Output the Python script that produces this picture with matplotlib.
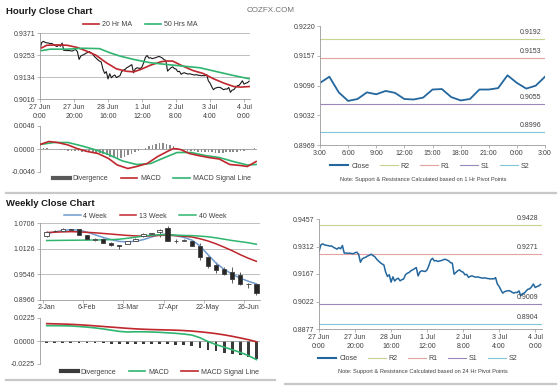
import matplotlib
matplotlib.use("Agg")
import matplotlib.pyplot as plt
from matplotlib.lines import Line2D
import numpy as np

plt.rcParams["font.family"] = ["Liberation Sans", "DejaVu Sans"]

# ---------------- data ----------------
# hourly closes, 27 Jun 0:00 -> 4 Jul 3:00 (trading hours only)
hourly_close = [
    0.9285, 0.9320, 0.9326, 0.9321, 0.9318, 0.9317, 0.9314, 0.9315, 0.9308, 0.9303,
    0.9298, 0.9306, 0.9300, 0.9317, 0.9277, 0.9278, 0.9276, 0.9277, 0.9275, 0.9274,
    0.9279, 0.9282, 0.9271, 0.9229, 0.9247, 0.9252, 0.9256, 0.9262, 0.9266, 0.9271,
    0.9264, 0.9258, 0.9245, 0.9236, 0.9227, 0.9220, 0.9215, 0.9177, 0.9154, 0.9163,
    0.9124, 0.9152, 0.9130, 0.9140, 0.9145, 0.9131, 0.9137, 0.9141, 0.9163, 0.9171,
    0.9175, 0.9184, 0.9189, 0.9195, 0.9201, 0.9157, 0.9178, 0.9184, 0.9182, 0.9180,
    0.9189, 0.9212, 0.9240, 0.9250, 0.9236, 0.9238, 0.9233, 0.9236, 0.9238, 0.9242,
    0.9245, 0.9241, 0.9236, 0.9227, 0.9224, 0.9166, 0.9175, 0.9184, 0.9189, 0.9180,
    0.9177, 0.9163, 0.9165, 0.9149, 0.9155, 0.9157, 0.9153, 0.9150, 0.9152, 0.9149,
    0.9147, 0.9145, 0.9147, 0.9144, 0.9143, 0.9141, 0.9142, 0.9141, 0.9148, 0.9114,
    0.9101, 0.9082, 0.9066, 0.9074, 0.9077, 0.9079, 0.9078, 0.9072, 0.9066, 0.9070,
    0.9069, 0.9078, 0.9052, 0.9064, 0.9066, 0.9078, 0.9087, 0.9089, 0.9100, 0.9114,
    0.9096, 0.9101, 0.9104, 0.9112,
]
hour_ticks = [0, 20, 40, 60, 80, 100, 120]
hour_labels = ["27 Jun\n0:00", "27 Jun\n20:00", "28 Jun\n16:00", "1 Jul\n12:00",
               "2 Jul\n8:00", "3 Jul\n4:00", "4 Jul\n0:00"]

ma20_hours = [0, 4, 10, 16, 22, 27, 33, 39, 45, 51, 55, 59, 65, 71, 74, 78, 84, 90,
              96, 102, 108, 114, 118, 123]
ma20 = [0.9287, 0.9305, 0.9307, 0.9305, 0.9293, 0.9275, 0.9251, 0.9211, 0.9178, 0.9165,
        0.9162, 0.9174, 0.9198, 0.9216, 0.9220, 0.9220, 0.9193, 0.9169, 0.9153, 0.9125,
        0.9102, 0.9083, 0.9080, 0.9083]
ma50_hours = [0, 6, 16, 25, 35, 41, 47, 55, 65, 74, 84, 94, 103, 114, 123]
ma50 = [0.9275, 0.9284, 0.9284, 0.9289, 0.9287, 0.9265, 0.9247, 0.9229, 0.9211, 0.9202,
        0.9193, 0.9184, 0.9165, 0.9142, 0.9125]

macd_h_hours = [0, 5, 10, 16, 21, 27, 33, 39, 44, 50, 55, 61, 67, 73, 76, 80, 85, 90,
                96, 102, 108, 114, 118, 123]
macd_h = [0.0009, 0.0015, 0.0013, 0.0008, 0.0001, -0.0005, -0.0009, -0.0019, -0.0032,
          -0.0039, -0.0035, -0.0029, -0.0015, -0.0004, 0.0001, -0.0001, -0.0009, -0.0013,
          -0.0017, -0.0020, -0.0031, -0.0033, -0.0035, -0.0025]
signal_h_hours = [0, 8, 16, 24, 31, 39, 47, 55, 63, 71, 78, 86, 94, 102, 110, 118, 123]
signal_h = [0.0009, 0.0013, 0.0013, 0.0006, -0.0001, -0.0011, -0.0024, -0.0031, -0.0029,
            -0.0017, -0.0007, -0.0007, -0.0013, -0.0017, -0.0025, -0.0032, -0.0031]
div_h_hours = list(range(0, 124, 2))
div_h = [0.0001, 0.0002, 0.0002, 0.0001, 0.0001, 0.0000, -0.0001, -0.0002, -0.0003, -0.0003,
         -0.0004, -0.0004, -0.0005, -0.0005, -0.0005, -0.0006, -0.0007, -0.0008, -0.0010, -0.0012,
         -0.0015, -0.0017, -0.0018, -0.0017, -0.0015, -0.0012, -0.0009, -0.0006, -0.0003, 0.0000,
         0.0003, 0.0006, 0.0009, 0.0011, 0.0012, 0.0012, 0.0010, 0.0008, 0.0006, 0.0003,
         0.0000, -0.0002, -0.0003, -0.0004, -0.0004, -0.0005, -0.0005, -0.0005, -0.0005, -0.0006,
         -0.0007, -0.0007, -0.0007, -0.0006, -0.0006, -0.0005, -0.0005, -0.0004, -0.0003, -0.0002,
         0.0000, 0.0002]

# last 24 hours, 3:00 -> 3:00
day_close = [0.9100, 0.9113, 0.9080, 0.9062, 0.9066, 0.9080, 0.9076, 0.9083, 0.9079, 0.9066,
             0.9065, 0.9069, 0.9086, 0.9087, 0.9070, 0.9063, 0.9066, 0.9086, 0.9086, 0.9089,
             0.9116, 0.9100, 0.9088, 0.9094, 0.9113]
day_ticks = [0, 3, 6, 9, 12, 15, 18, 21, 24]
day_labels = ["3:00", "6:00", "9:00", "12:00", "15:00", "18:00", "21:00", "0:00", "3:00"]
pivots_1h = {"R2": 0.9192, "R1": 0.9153, "S1": 0.9055, "S2": 0.8996}
pivots_24h = {"R2": 0.9428, "R1": 0.9271, "S1": 0.9009, "S2": 0.8904}

# weekly candles
wk_open = [1.0410, 1.0515, 1.0535, 1.0565, 1.0560, 1.0425, 1.0330, 1.0350, 1.0262, 1.0205,
           1.0232, 1.0297, 1.0405, 1.0462, 1.0512, 1.0587, 1.0310, 1.0305, 1.0304, 1.0192,
           0.9932, 0.9746, 0.9672, 0.9598, 0.9524, 0.9328, 0.9338]
wk_high = [1.0525, 1.0540, 1.0585, 1.0580, 1.0575, 1.0440, 1.0365, 1.0360, 1.0275, 1.0215,
           1.0310, 1.0360, 1.0475, 1.0490, 1.0565, 1.0630, 1.0335, 1.0340, 1.0320, 1.0250,
           0.9960, 0.9820, 0.9720, 0.9710, 0.9600, 0.9340, 0.9345]
wk_low = [1.0390, 1.0500, 1.0525, 1.0540, 1.0430, 1.0320, 1.0290, 1.0250, 1.0190, 1.0110,
          1.0225, 1.0290, 1.0395, 1.0440, 1.0400, 1.0290, 1.0255, 1.0290, 1.0180, 0.9870,
          0.9690, 0.9580, 0.9540, 0.9340, 0.9300, 0.9230, 0.9085]
wk_close = [1.0505, 1.0525, 1.0570, 1.0555, 1.0440, 1.0335, 1.0350, 1.0262, 1.0205, 1.0175,
            1.0297, 1.0350, 1.0462, 1.0480, 1.0552, 1.0304, 1.0295, 1.0325, 1.0192, 0.9932,
            0.9724, 0.9650, 0.9560, 0.9449, 0.9338, 0.9320, 0.9130]
ma4w = [1.0470, 1.0500, 1.0540, 1.0555, 1.0545, 1.0500, 1.0440, 1.0380, 1.0330, 1.0290,
        1.0280, 1.0295, 1.0330, 1.0390, 1.0440, 1.0460, 1.0420, 1.0380, 1.0320, 1.0190,
        0.9990, 0.9800, 0.9660, 0.9550, 0.9460, 0.9390, 0.9330]
ma13w = [1.0490, 1.0500, 1.0505, 1.0510, 1.0505, 1.0495, 1.0485, 1.0470, 1.0455, 1.0440,
         1.0425, 1.0415, 1.0410, 1.0415, 1.0425, 1.0430, 1.0420, 1.0405, 1.0390, 1.0350,
         1.0300, 1.0235, 1.0160, 1.0080, 0.9990, 0.9910, 0.9840]
ma40w = [1.0310, 1.0312, 1.0314, 1.0316, 1.0318, 1.0320, 1.0322, 1.0325, 1.0330, 1.0340,
         1.0360, 1.0385, 1.0410, 1.0430, 1.0440, 1.0440, 1.0432, 1.0425, 1.0420, 1.0410,
         1.0395, 1.0370, 1.0340, 1.0310, 1.0285, 1.0260, 1.0225]
week_ticks = [0, 5, 10, 15, 20, 25]
week_labels = ["2-Jan", "6-Feb", "13-Mar", "17-Apr", "22-May", "26-Jun"]

macd_w = [0.0150, 0.0150, 0.0149, 0.0147, 0.0142, 0.0136, 0.0128, 0.0118, 0.0106, 0.0094,
          0.0088, 0.0090, 0.0090, 0.0088, 0.0085, 0.0080, 0.0075, 0.0068, 0.0058, 0.0032,
          -0.0005, -0.0035, -0.0060, -0.0085, -0.0112, -0.0142, -0.0182]
signal_w = [0.0170, 0.0168, 0.0166, 0.0163, 0.0159, 0.0154, 0.0148, 0.0142, 0.0136, 0.0130,
            0.0124, 0.0119, 0.0115, 0.0112, 0.0110, 0.0108, 0.0106, 0.0102, 0.0097, 0.0090,
            0.0082, 0.0072, 0.0060, 0.0046, 0.0030, 0.0013, -0.0007]
div_w = [-0.0015, -0.0015, -0.0016, -0.0017, -0.0018, -0.0019, -0.0020, -0.0022, -0.0025, -0.0030,
         -0.0030, -0.0028, -0.0027, -0.0027, -0.0028, -0.0030, -0.0035, -0.0040, -0.0050, -0.0065,
         -0.0085, -0.0100, -0.0115, -0.0125, -0.0140, -0.0155, -0.0175]

# ---------------- style ----------------
RED = "#c0272d"
GREEN = "#2fb56f"
BLUE = "#23679e"
LIGHTBLUE = "#6f9bcf"
AXIS = "#9a9a9a"
GRID = "#b4b4b4"
TXT = "#404040"
PIVOT_COLORS = {"R2": "#c4d590", "R1": "#e6a3a3", "S1": "#9a88bd", "S2": "#7fc6d9"}
FS = 5.0

W, H = 560, 386
fig = plt.figure(figsize=(5.6, 3.86), dpi=100)
fig.patch.set_facecolor("white")


def px_axes(x0, y0, x1, y1):
    return fig.add_axes([x0 / W, 1 - y1 / H, (x1 - x0) / W, (y1 - y0) / H])


def style_axes(ax, bottom=True):
    for s in ("top", "right"):
        ax.spines[s].set_visible(False)
    ax.spines["left"].set_color(AXIS)
    ax.spines["left"].set_linewidth(0.6)
    ax.spines["bottom"].set_color(AXIS)
    ax.spines["bottom"].set_linewidth(0.6)
    ax.spines["bottom"].set_visible(bottom)
    ax.tick_params(labelsize=FS, length=2, width=0.5, colors=AXIS, labelcolor=TXT, pad=1.5)
    ax.set_facecolor("none")


def legend_at(ax, handles, cx, cy, ncol, hl=2.4, cs=1.8):
    ax.legend(handles=handles, loc="center", bbox_to_anchor=(cx / W, 1 - cy / H),
              bbox_transform=fig.transFigure, ncol=ncol, frameon=False, fontsize=FS,
              handlelength=hl, columnspacing=cs, handletextpad=0.4, borderpad=0,
              labelcolor=TXT)


def fig_text(x, y, s, **kw):
    fig.text(x / W, 1 - y / H, s, **kw)


def separator(x0, x1, y):
    fig.add_artist(Line2D([x0 / W, x1 / W], [1 - y / H, 1 - y / H],
                          transform=fig.transFigure, color="#c8c8c8", lw=1.6))


hours = np.arange(len(hourly_close))

# titles
fig_text(6, 11, "Hourly Close Chart", fontsize=6.8, fontweight="bold", color="#1a1a1a", va="center")
fig_text(247, 10, "COZFX.COM", fontsize=5.8, color="#707070", va="center")
fig_text(6, 203, "Weekly Close Chart", fontsize=6.8, fontweight="bold", color="#1a1a1a", va="center")

# ---- hourly close with moving averages ----
ax = px_axes(40, 33, 250, 99)
style_axes(ax)
yt = np.linspace(0.9016, 0.9371, 4)
ax.set_ylim(yt[0], yt[-1])
ax.set_xlim(0, 123.5)
ax.set_yticks(yt, ["0.9016", "0.9134", "0.9253", "0.9371"])
ax.set_xticks(hour_ticks, hour_labels, linespacing=1.4)
ax.grid(axis="y", color=GRID, lw=0.6)
ax.set_axisbelow(True)
ax.plot(hours, hourly_close, color="#1a1a1a", lw=0.8)
ax.plot(ma20_hours, ma20, color=RED, lw=1.2)
ax.plot(ma50_hours, ma50, color=GREEN, lw=1.2)
legend_at(ax, [Line2D([], [], color=RED, lw=1.2, label="20 Hr MA"),
               Line2D([], [], color=GREEN, lw=1.2, label="50 Hrs MA")], 140, 25, 2)

# ---- hourly MACD ----
ax = px_axes(40, 126, 257, 172)
style_axes(ax, bottom=False)
ax.set_ylim(-0.0046, 0.0046)
ax.set_xlim(0, 123.5)
ax.set_yticks([-0.0046, 0, 0.0046], ["-0.0046", "0.0000", "0.0046"])
ax.set_xticks([])
ax.axhline(0, color=AXIS, lw=0.6)
ax.bar(div_h_hours, div_h, width=0.9, color="#8a8a8a", zorder=1)
ax.plot(macd_h_hours, macd_h, color=RED, lw=1.2, zorder=3)
ax.plot(signal_h_hours, signal_h, color=GREEN, lw=1.2, zorder=2)
legend_at(ax, [Line2D([], [], color="#595959", lw=3, label="Divergence"),
               Line2D([], [], color=RED, lw=1.2, label="MACD"),
               Line2D([], [], color=GREEN, lw=1.2, label="MACD Signal Line")], 152, 179, 3)

# ---- last 24 hours with 1 hr pivots ----
ax = px_axes(320, 26, 545, 145)
style_axes(ax)
yt = np.linspace(0.8969, 0.9220, 5)
ax.set_ylim(yt[0], yt[-1])
ax.set_xlim(0, 24)
ax.set_yticks(yt, ["0.8969", "0.9032", "0.9096", "0.9157", "0.9220"])
ax.set_xticks(day_ticks, day_labels)
for name, val in pivots_1h.items():
    ax.axhline(val, color=PIVOT_COLORS[name], lw=0.8)
    ax.text(23.6, val + 0.0006, f"{val:.4f}", fontsize=FS, color=TXT, ha="right", va="bottom")
ax.plot(range(len(day_close)), day_close, color=BLUE, lw=1.3)
handles = [Line2D([], [], color=BLUE, lw=1.5, label="Close")] + \
          [Line2D([], [], color=PIVOT_COLORS[k], lw=0.8, label=k) for k in pivots_1h]
legend_at(ax, handles, 430, 166, 5, hl=2.6, cs=1.5)
fig_text(423, 180, "Note: Support & Resistance Calculated based on 1 Hr Pivot Points",
         fontsize=4.1, color=TXT, ha="center", va="center")

# ---- weekly candles ----
ax = px_axes(40, 223, 260, 300)
style_axes(ax)
yt = np.linspace(0.8966, 1.0706, 4)
ax.set_ylim(yt[0], yt[-1])
ax.set_xlim(-0.83, 26.45)
ax.set_yticks(yt, ["0.8966", "0.9546", "1.0126", "1.0706"])
ax.set_xticks(week_ticks, week_labels)
ax.set_xticks(np.arange(-0.5, 27, 5), minor=True)
ax.tick_params(axis="x", which="major", length=0, pad=3)
ax.tick_params(axis="x", which="minor", length=2, width=0.5, colors=AXIS)
ax.grid(axis="y", color=GRID, lw=0.6)
ax.set_axisbelow(True)
weeks = np.arange(len(wk_close))
o, c = np.array(wk_open), np.array(wk_close)
up = c >= o
ax.vlines(weeks, wk_low, wk_high, color="#404040", lw=0.6, zorder=2)
ax.plot(weeks, ma4w, color=LIGHTBLUE, lw=1.1, zorder=2)
ax.plot(weeks, ma13w, color=RED, lw=1.1, zorder=2)
ax.plot(weeks, ma40w, color=GREEN, lw=1.1, zorder=2)
ax.bar(weeks[up], (c - o)[up], bottom=o[up], width=0.55, color="white",
       edgecolor="#404040", lw=0.6, zorder=3)
ax.bar(weeks[~up], (o - c)[~up], bottom=c[~up], width=0.55, color="#262626",
       edgecolor="#404040", lw=0.6, zorder=3)
legend_at(ax, [Line2D([], [], color=LIGHTBLUE, lw=1.1, label="4 Week"),
               Line2D([], [], color=RED, lw=1.1, label="13 Week"),
               Line2D([], [], color=GREEN, lw=1.1, label="40 Week")], 145, 216, 3)

# ---- weekly MACD ----
ax = px_axes(40, 318, 260, 364)
style_axes(ax, bottom=False)
ax.set_ylim(-0.0225, 0.0225)
ax.set_xlim(-0.83, 26.45)
ax.set_yticks([-0.0225, 0, 0.0225], ["-0.0225", "0.0000", "0.0225"])
ax.set_xticks([])
ax.axhline(0, color=AXIS, lw=0.6)
ax.bar(weeks, div_w, width=0.35, color="#3a3a3a", zorder=1)
ax.plot(weeks, macd_w, color=GREEN, lw=1.2, zorder=2)
ax.plot(weeks, signal_w, color=RED, lw=1.2, zorder=3)
legend_at(ax, [Line2D([], [], color="#3a3a3a", lw=3, label="Divergence"),
               Line2D([], [], color=GREEN, lw=1.2, label="MACD"),
               Line2D([], [], color=RED, lw=1.2, label="MACD Signal Line")], 160, 372, 3)

# ---- hourly close with 24 hr pivots ----
ax = px_axes(319, 219, 541.5, 329)
style_axes(ax)
yt = np.linspace(0.8877, 0.9457, 5)
ax.set_ylim(yt[0], yt[-1])
ax.set_xlim(0, 123.5)
ax.set_yticks(yt, ["0.8877", "0.9022", "0.9167", "0.9312", "0.9457"])
ax.set_xticks(hour_ticks, hour_labels, linespacing=1.4)
for name, val in pivots_24h.items():
    ax.axhline(val, color=PIVOT_COLORS[name], lw=0.8)
    ax.text(121.5, val + 0.0015, f"{val:.4f}", fontsize=FS, color=TXT, ha="right", va="bottom")
ax.plot(hours, hourly_close, color=BLUE, lw=1.1)
handles = [Line2D([], [], color=BLUE, lw=1.5, label="Close")] + \
          [Line2D([], [], color=PIVOT_COLORS[k], lw=0.8, label=k) for k in pivots_24h]
legend_at(ax, handles, 418, 359, 5, hl=2.6, cs=1.5)
fig_text(423, 372, "Note: Support & Resistance Calculated based on 24 Hr Pivot Points",
         fontsize=4.1, color=TXT, ha="center", va="center")

# separators between the sections
separator(6, 556, 192.5)
separator(6, 275, 380)
separator(285, 556, 384)

fig.savefig("out.png", dpi=100, facecolor="white")
